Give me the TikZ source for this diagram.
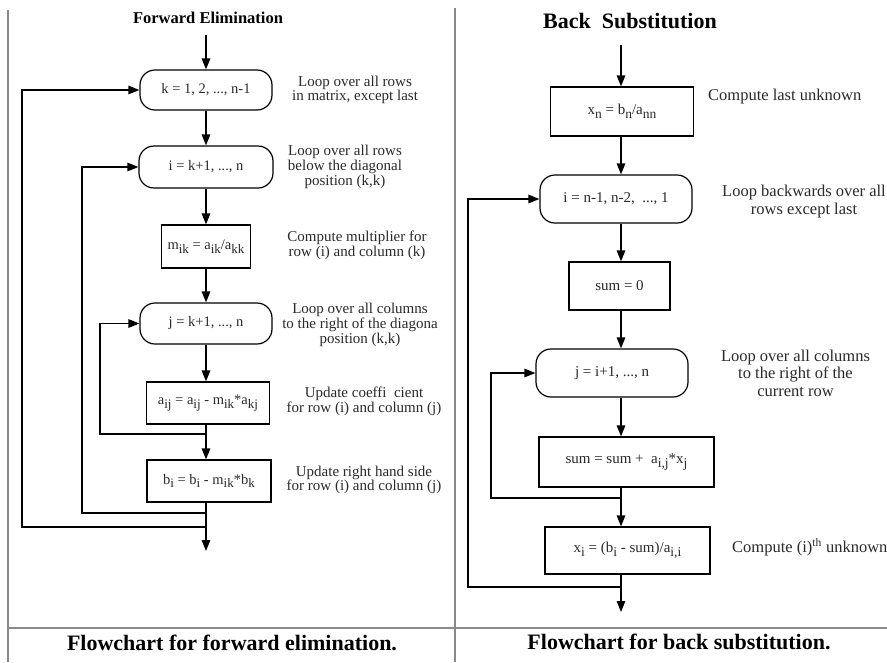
\documentclass[tikz,border=0pt]{standalone}
\usepackage{fontspec}
\setmainfont{Liberation Serif}
\usetikzlibrary{arrows.meta}
\definecolor{txt}{HTML}{2A2A2A}
\definecolor{rule}{HTML}{8A8A8A}
\newcommand{\lowsub}[1]{\raisebox{-0.55ex}{\scalebox{0.9}{#1}}}
\begin{document}
\begin{tikzpicture}[x=1pt,y=-1pt,
  flow/.style={line width=1.2pt, draw=black},
  arr/.style={flow, -{Triangle[length=11pt,width=8.5pt]}},
  loopbox/.style={draw, line width=1.2pt, rounded corners=15pt, inner sep=0pt, text=txt},
  procbox/.style={draw, line width=1.2pt, inner sep=0pt, text=txt},
  lfont/.style={font=\fontsize{14.5}{16}\selectfont},
  rfont/.style={font=\fontsize{15}{17}\selectfont},
  lnote/.style={align=center, text=txt, inner sep=0pt, font=\fontsize{15}{14.7}\selectfont},
  rnote/.style={align=center, text=txt, inner sep=0pt, font=\fontsize{16.5}{17.5}\selectfont},
  gridline/.style={draw=rule, line width=1.4pt},
  ttl/.style={text=black, inner sep=0pt, font=\bfseries}
]
\useasboundingbox (0,0) rectangle (887,662);
\fill[white] (0,0) rectangle (887,662);

% table rules
\coordinate (tl) at (8,10);
\coordinate (tb) at (8,662);
\coordinate (ml) at (455,8);
\coordinate (mb) at (455,662);
\coordinate (hl) at (8,628);
\coordinate (hr) at (887,628);
\draw[gridline] (tl) -- (tb);
\draw[gridline] (ml) -- (mb);
\draw[gridline] (hl) -- (hr);

% ---------------- Left: forward elimination ----------------
\node[ttl, font=\bfseries\fontsize{16.5}{18}\selectfont] (ltitle) at (208,18) {Forward Elimination};

\node[loopbox, lfont, minimum width=132pt, minimum height=40pt] (k) at (206,90) {k = 1, 2, ..., n-1};
\node[loopbox, lfont, minimum width=134pt, minimum height=42pt] (i) at (206,167) {i = k+1, ..., n};
\node[procbox, lfont, minimum width=89pt, minimum height=43pt] (m) at (206,246.5) {m\lowsub{ik} = a\lowsub{ik}/a\lowsub{kk}};
\node[loopbox, lfont, minimum width=132pt, minimum height=41pt] (j) at (206,323.5) {j = k+1, ..., n};
\node[procbox, lfont, minimum width=123pt, minimum height=42pt] (a) at (208,403) {a\lowsub{ij} = a\lowsub{ij} - m\lowsub{ik}*a\lowsub{kj}};
\node[procbox, lfont, minimum width=124pt, minimum height=42pt] (b) at (209,481) {b\lowsub{i} = b\lowsub{i} - m\lowsub{ik}*b\lowsub{k}};

\coordinate (lstart) at (206,35);
\coordinate (ja) at (206,434);
\coordinate (jl) at (100,434);
\coordinate (ib) at (206,513);
\coordinate (il) at (82,513);
\coordinate (kb) at (206,527);
\coordinate (kl) at (22,527);
\coordinate (lend) at (206,551);

\draw[arr] (lstart) -- (k.north -| lstart);
\draw[arr] (k.south -| lstart) -- (i.north -| lstart);
\draw[arr] (i.south -| lstart) -- (m.north -| lstart);
\draw[arr] (m.south -| lstart) -- (j.north -| lstart);
\draw[arr] (j.south -| lstart) -- (a.north -| lstart);
\draw[arr] (a.south -| lstart) -- (b.north -| lstart);
\draw[arr] (b.south -| lstart) -- (lend);
\draw[arr] (ja) -- (jl) |- (j.west);
\draw[arr] (ib) -- (il) |- (i.west);
\draw[arr] (kb) -- (kl) |- (k.west);

\node[lnote] (nk) at (355,90) {Loop over all rows\\in matrix, except last};
\node[lnote] (ni) at (345,167) {Loop over all rows\\below the diagonal\\position (k,k)};
\node[lnote] (nm) at (357,245.5) {Compute multiplier for\\row (i) and column (k)};
\node[lnote] (nj) at (360,325) {Loop over all columns\\to the right of the diagona\\position (k,k)};
\node[lnote] (na) at (364,401) {Update coeffi~ cient\\for row (i) and column (j)};
\node[lnote] (nb) at (364,480) {Update right hand side\\for row (i) and column (j)};

\node[ttl, font=\bfseries\fontsize{22}{24}\selectfont] (lcap) at (232,643) {Flowchart for forward elimination.};

% ---------------- Right: back substitution ----------------
\node[ttl, font=\bfseries\fontsize{22}{24}\selectfont] (rtitle) at (630,21) {Back~ Substitution};

\node[procbox, rfont, minimum width=143pt, minimum height=49pt] (xn) at (622,111.5) {x\lowsub{n} = b\lowsub{n}/a\lowsub{nn}};
\node[loopbox, rfont, minimum width=152pt, minimum height=48pt] (ri) at (616,199) {i = n-1, n-2,~ ..., 1};
\node[procbox, rfont, minimum width=101pt, minimum height=48pt] (s0) at (619.5,286) {sum = 0};
\node[loopbox, rfont, minimum width=152pt, minimum height=48pt] (rj) at (612,373) {j = i+1, ..., n};
\node[procbox, rfont, minimum width=175pt, minimum height=50pt] (su) at (626.5,462) {sum = sum +~ a\lowsub{i,j}*x\lowsub{j}};
\node[procbox, rfont, minimum width=165pt, minimum height=47pt] (xi) at (627.5,550.5) {x\lowsub{i} = (b\lowsub{i} - sum)/a\lowsub{i,i}};

\coordinate (rstart) at (621,45);
\coordinate (rja) at (621,498);
\coordinate (rjl) at (491,498);
\coordinate (ria) at (621,587);
\coordinate (ril) at (468,587);
\coordinate (rend) at (621,612);

\draw[arr] (rstart) -- (xn.north -| rstart);
\draw[arr] (xn.south -| rstart) -- (ri.north -| rstart);
\draw[arr] (ri.south -| rstart) -- (s0.north -| rstart);
\draw[arr] (s0.south -| rstart) -- (rj.north -| rstart);
\draw[arr] (rj.south -| rstart) -- (su.north -| rstart);
\draw[arr] (su.south -| rstart) -- (xi.north -| rstart);
\draw[arr] (xi.south -| rstart) -- (rend);
\draw[arr] (rja) -- (rjl) |- (rj.west);
\draw[arr] (ria) -- (ril) |- (ri.west);

\node[rnote, anchor=west] (nxn) at (708,97) {Compute last unknown};
\node[rnote] (nri) at (804,201.5) {Loop backwards over all\\rows except last};
\node[rnote] (nrj) at (795.5,373) {Loop over all columns\\to the right of the\\current row};
\node[rnote, anchor=west] (nxi) at (732,547) {Compute (i)\textsuperscript{th} unknown};

\node[ttl, font=\bfseries\fontsize{22}{24}\selectfont] (rcap) at (679,642) {Flowchart for back substitution.};
\end{tikzpicture}
\end{document}
